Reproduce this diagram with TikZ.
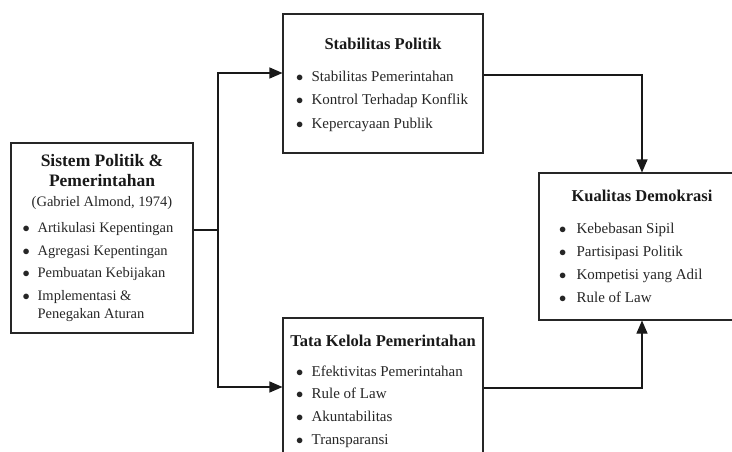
\documentclass[tikz,border=0pt]{standalone}
\usepackage{fontspec}
\setmainfont{Liberation Serif}
\usetikzlibrary{arrows.meta, positioning}
\newcommand{\itm}[1][14.5pt]{\makebox[#1][l]{\kern-1pt$\bullet$}}

\begin{document}
\begin{tikzpicture}[x=1pt, y=-1pt,
    box/.style={rectangle, draw=black!85, line width=1.1pt, inner sep=0pt},
    ttl/.style={font=\fontsize{16.5}{20}\selectfont\bfseries, text=black!90,
                inner sep=0pt, align=center},
    lst/.style={font=\fontsize{15}{#1}\selectfont, text=black!85,
                inner sep=0pt, align=left},
    lst/.default=23pt,
    arr/.style={-{Triangle[length=13pt, width=11pt]}, line width=1.1pt, black!90},
    con/.style={line width=1.1pt, black!90},
  ]
  \useasboundingbox (0,0) rectangle (732,452);

  % boxes
  \node[box, minimum width=182pt, minimum height=190pt] (sis)  at (102,238)   {};
  \node[box, minimum width=200pt, minimum height=139pt] (stab) at (383,83.5)  {};
  \node[box, minimum width=200pt, minimum height=148pt] (tata) at (383,392)   {};
  \node[box, minimum width=206pt, minimum height=147pt] (kual) at (642,246.5) {};

  % contents
  \node[ttl, font=\fontsize{17.5}{20}\selectfont\bfseries, below=12pt of sis.north] (sisT)
    {Sistem Politik \&\\Pemerintahan};
  \node[lst, font=\fontsize{14.5}{20}\selectfont, below=54pt of sis.north] (sisS)
    {(Gabriel Almond, 1974)};
  \node[lst=22.5pt, font=\fontsize{14.5}{22.5}\selectfont, below right=80pt and 13pt of sis.north west] (sisL)
    {\itm[14pt]Artikulasi Kepentingan\\
     \itm[14pt]Agregasi Kepentingan\\
     \itm[14pt]Pembuatan Kebijakan\\
     \itm[14pt]Implementasi \&\\[-4.5pt]
     \hspace*{14pt}Penegakan Aturan};

  \node[ttl, below=24.5pt of stab.north] (stabT) {Stabilitas Politik};
  \node[lst=23.5pt, below right=57pt and 14.5pt of stab.north west] (stabL)
    {\itm Stabilitas Pemerintahan\\
     \itm Kontrol Terhadap Konflik\\
     \itm Kepercayaan Publik};

  \node[ttl, below=17.5pt of tata.north] (tataT) {Tata Kelola Pemerintahan};
  \node[lst=22.7pt, below right=48pt and 14.5pt of tata.north west] (tataL)
    {\itm Efektivitas Pemerintahan\\
     \itm Rule of Law\\
     \itm Akuntabilitas\\
     \itm Transparansi};

  \node[ttl, below=17.5pt of kual.north] (kualT) {Kualitas Demokrasi};
  \node[lst, below right=50pt and 21.5pt of kual.north west] (kualL)
    {\itm[16.5pt]Kebebasan Sipil\\
     \itm[16.5pt]Partisipasi Politik\\
     \itm[16.5pt]Kompetisi yang Adil\\
     \itm[16.5pt]Rule of Law};

  % connectors
  \coordinate (fork) at (218,230);
  \draw[con] (sis.east |- fork) -- (fork);
  \draw[arr] (fork) |- ([yshift=10.5pt]stab.west);
  \draw[arr] (fork) |- ([yshift=5pt]tata.west);
  \draw[arr] ([yshift=8.5pt]stab.east) -| (kual.north);
  \draw[arr] ([yshift=4pt]tata.east) -| (kual.south);
\end{tikzpicture}
\end{document}
